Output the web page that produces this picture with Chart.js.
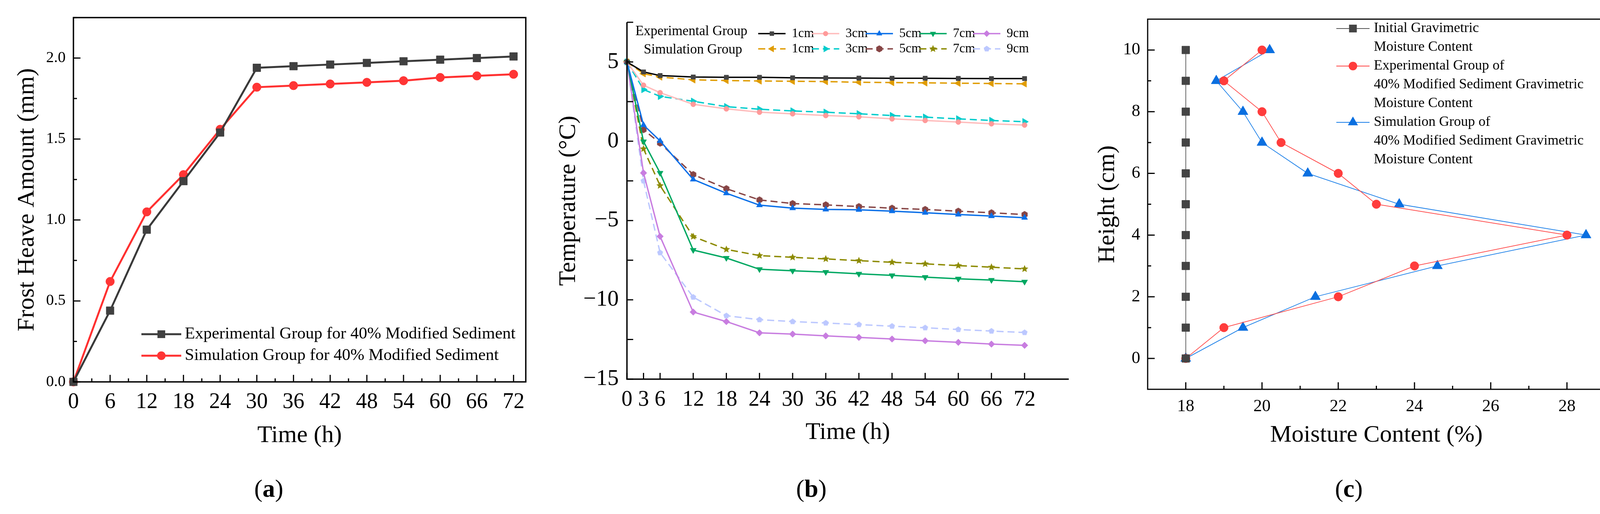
<!DOCTYPE html>
<html>
<head>
<meta charset="utf-8">
<script src="https://cdn.jsdelivr.net/npm/chart.js@4.4.1/dist/chart.umd.min.js"></script>
<style>
body { margin: 0; background: #fff; width: 4157px; height: 1315px; position: relative; overflow: hidden; font-family: "Liberation Serif", serif; }
canvas { position: absolute; top: 0; }
.tag { position: absolute; top: 1212px; font-size: 64px; line-height: 76px; transform: translateX(-50%); color: #000; }
</style>
</head>
<body>
<canvas id="chartA" width="1400" height="1180" style="left:0"></canvas>
<canvas id="chartB" width="1380" height="1180" style="left:1400px"></canvas>
<canvas id="chartC" width="1377" height="1180" style="left:2780px"></canvas>
<div class="tag" style="left:688px">(<b>a</b>)</div>
<div class="tag" style="left:2077px">(<b>b</b>)</div>
<div class="tag" style="left:3453px">(<b>c</b>)</div>
<script>
// (a) frost heave vs time
var timeA = [0, 6, 12, 18, 24, 30, 36, 42, 48, 54, 60, 66, 72];
var heaveExp = [0, 0.44, 0.94, 1.24, 1.54, 1.94, 1.95, 1.96, 1.97, 1.98, 1.99, 2.00, 2.01];
var heaveSim = [0, 0.62, 1.05, 1.28, 1.56, 1.82, 1.83, 1.84, 1.85, 1.86, 1.88, 1.89, 1.90];
var seriesA = ['Experimental Group for 40% Modified Sediment', 'Simulation Group for 40% Modified Sediment'];
var xTicksA = [0, 6, 12, 18, 24, 30, 36, 42, 48, 54, 60, 66, 72];
var yTicksA = [0, 0.5, 1.0, 1.5, 2.0];

// (b) temperature at depth vs time
var timeB = [0, 3, 6, 12, 18, 24, 30, 36, 42, 48, 54, 60, 66, 72];
var depths = ['1cm', '3cm', '5cm', '7cm', '9cm'];
var exp1 = [5, 4.37, 4.14, 4.05, 4.03, 4.03, 4.0, 3.99, 3.98, 3.97, 3.97, 3.96, 3.95, 3.95];
var exp3 = [5, 3.53, 3.06, 2.33, 2.04, 1.83, 1.73, 1.62, 1.54, 1.41, 1.31, 1.21, 1.1, 1.02];
var exp5 = [5, 1.02, 0.02, -2.41, -3.28, -4.03, -4.22, -4.3, -4.32, -4.41, -4.51, -4.62, -4.72, -4.82];
var exp7 = [5, -0.02, -2.0, -6.86, -7.36, -8.07, -8.17, -8.25, -8.36, -8.46, -8.57, -8.67, -8.75, -8.86];
var exp9 = [5, -2.0, -6.0, -10.77, -11.37, -12.08, -12.16, -12.27, -12.37, -12.47, -12.58, -12.68, -12.79, -12.87];
var sim1 = [5, 4.26, 4.05, 3.87, 3.83, 3.8, 3.78, 3.76, 3.72, 3.7, 3.68, 3.66, 3.64, 3.62];
var sim3 = [5, 3.26, 2.83, 2.52, 2.18, 2.02, 1.91, 1.83, 1.73, 1.62, 1.52, 1.41, 1.31, 1.23];
var sim5 = [5, 0.73, -0.12, -2.1, -2.99, -3.7, -3.93, -4.01, -4.12, -4.22, -4.3, -4.41, -4.51, -4.62];
var sim7 = [5, -0.48, -2.8, -6.01, -6.82, -7.21, -7.32, -7.42, -7.53, -7.63, -7.73, -7.84, -7.94, -8.05];
var sim9 = [5, -2.5, -7.03, -9.83, -11.0, -11.25, -11.37, -11.46, -11.56, -11.66, -11.76, -11.87, -11.97, -12.06];
var xTicksB = [0, 3, 6, 12, 18, 24, 30, 36, 42, 48, 54, 60, 66, 72];
var yTicksB = [5, 0, -5, -10, -15];

// (c) moisture profile
var heights = [0, 1, 2, 3, 4, 5, 6, 7, 8, 9, 10];
var moistInit = [18, 18, 18, 18, 18, 18, 18, 18, 18, 18, 18];
var moistExp = [18, 19, 22, 24, 28, 23, 22, 20.5, 20, 19, 20];
var moistSim = [18, 19.5, 21.4, 24.6, 28.5, 23.6, 21.2, 20, 19.5, 18.8, 20.2];
var seriesC = ['Initial Gravimetric\nMoisture Content',
  'Experimental Group of\n40% Modified Sediment Gravimetric\nMoisture Content',
  'Simulation Group of\n40% Modified Sediment Gravimetric\nMoisture Content'];
var xTicksC = [18, 20, 22, 24, 26, 28];
var yTicksC = [0, 2, 4, 6, 8, 10];

Chart.defaults.font.family = '"Liberation Serif", serif';
Chart.defaults.color = '#000';

var SERIF = '"Liberation Serif", serif';

function pts(xs, ys) {
    return xs.map(function (x, i) { return { x: x, y: ys[i] }; });
}

function shapeImg(n, r, color, inner) {
    var c = document.createElement('canvas');
    var s = Math.ceil(r * 2 + 2);
    c.width = c.height = s;
    var g = c.getContext('2d');
    g.fillStyle = color;
    g.beginPath();
    var count = inner ? n * 2 : n;
    for (var k = 0; k < count; k++) {
        var rr = (inner && k % 2) ? r * inner : r;
        var ang = -Math.PI / 2 + k * Math.PI * 2 / count;
        g.lineTo(s / 2 + rr * Math.cos(ang), s / 2 + rr * Math.sin(ang));
    }
    g.closePath();
    g.fill();
    return c;
}

function drawMark(ctx, ds, x, y) {
    var st = ds.pointStyle, r = ds.pointRadius, rot = (ds.pointRotation || 0) * Math.PI / 180;
    ctx.save();
    ctx.translate(x, y);
    if (typeof st === 'object') {
        ctx.drawImage(st, -st.width / 2, -st.height / 2);
        ctx.restore();
        return;
    }
    ctx.rotate(rot);
    ctx.fillStyle = ds.pointBackgroundColor;
    ctx.beginPath();
    if (st === 'rect') {
        var s = r * Math.SQRT1_2;
        ctx.rect(-s, -s, 2 * s, 2 * s);
    } else if (st === 'rectRot') {
        ctx.moveTo(0, -r); ctx.lineTo(r, 0); ctx.lineTo(0, r); ctx.lineTo(-r, 0); ctx.closePath();
    } else if (st === 'triangle') {
        for (var k = 0; k < 3; k++) {
            var a = -Math.PI / 2 + k * 2 * Math.PI / 3;
            ctx.lineTo(r * Math.cos(a), r * Math.sin(a));
        }
        ctx.closePath();
    } else {
        ctx.arc(0, 0, r, 0, Math.PI * 2);
    }
    ctx.fill();
    ctx.restore();
}

// inward tick marks + axis frame
var axisFrame = {
    id: 'axisFrame',
    afterDraw: function (chart, args, o) {
        var ctx = chart.ctx, a = chart.chartArea, xs = chart.scales.x, ys = chart.scales.y;
        ctx.save();
        ctx.strokeStyle = '#000';
        ctx.lineWidth = o.width;
        ctx.beginPath();
        function tx(v, len) { var p = xs.getPixelForValue(v); ctx.moveTo(p, a.bottom); ctx.lineTo(p, a.bottom - len); }
        function ty(v, len) { var p = ys.getPixelForValue(v); ctx.moveTo(a.left, p); ctx.lineTo(a.left + len, p); }
        xs.ticks.forEach(function (t) { tx(t.value, o.major); });
        (o.xMinor || []).forEach(function (v) { tx(v, o.minor); });
        ys.ticks.forEach(function (t) { ty(t.value, o.major); });
        (o.yMinor || []).forEach(function (v) { ty(v, o.minor); });
        ctx.stroke();
        ctx.lineWidth = o.axis;
        ctx.beginPath();
        if (o.box) {
            ctx.rect(a.left, a.top, a.right - a.left, a.bottom - a.top);
        } else {
            ctx.moveTo(a.left, a.top);
            ctx.lineTo(a.left, a.bottom);
            ctx.lineTo(a.right, a.bottom);
        }
        ctx.stroke();
        ctx.restore();
    }
};

// legend drawn from the datasets' own styles
var sampleLegend = {
    id: 'sampleLegend',
    afterDraw: function (chart, args, o) {
        if (!o.items) return;
        var ctx = chart.ctx;
        ctx.save();
        ctx.fillStyle = '#000';
        ctx.textBaseline = 'middle';
        (o.texts || []).forEach(function (t) {
            ctx.font = t.font;
            ctx.textAlign = t.align || 'left';
            ctx.fillText(t.text, t.x, t.y);
        });
        ctx.font = o.font;
        ctx.textAlign = 'left';
        o.items.forEach(function (it) {
            var ds = chart.data.datasets[it.ds];
            ctx.strokeStyle = ds.borderColor;
            ctx.lineWidth = ds.borderWidth;
            ctx.setLineDash(ds.borderDash || []);
            ctx.beginPath();
            ctx.moveTo(it.x, it.y);
            ctx.lineTo(it.x + o.len, it.y);
            ctx.stroke();
            ctx.setLineDash([]);
            drawMark(ctx, ds, it.x + o.len / 2, it.y);
            String(ds.label).split('\n').forEach(function (s, i) {
                ctx.fillText(s, it.x + o.len + o.gap, it.y + i * (o.lh || 0));
            });
        });
        ctx.restore();
    }
};

function ticksFrom(list) {
    return function (s) { s.ticks = list.map(function (v) { return { value: v }; }); };
}

function fixW(w) { return function (s) { s.width = w; }; }
function fixH(h) { return function (s) { s.height = h; }; }

function line(label, xs, ys, color, ptColor, style, r, w, dash, rot) {
    return {
        label: label,
        data: pts(xs, ys),
        borderColor: color,
        backgroundColor: ptColor,
        borderWidth: w,
        borderDash: dash || [],
        pointStyle: style,
        pointRadius: r,
        pointRotation: rot || 0,
        pointBackgroundColor: ptColor,
        pointBorderColor: ptColor,
        pointBorderWidth: 1,
        tension: 0,
        clip: 14
    };
}

var common = {
    responsive: false,
    animation: false,
    devicePixelRatio: 1,
    events: []
};

// ---------- (a)
new Chart(document.getElementById('chartA'), {
    type: 'line',
    data: {
        datasets: [
            line(seriesA[0], timeA, heaveExp, '#3a3a3a', '#404040', 'rect', 14, 5),
            line(seriesA[1], timeA, heaveSim, '#ff3030', '#ff3535', 'circle', 11, 5)
        ]
    },
    options: Object.assign({}, common, {
        layout: { padding: { left: 0, top: 45, right: 54, bottom: 0 } },
        scales: {
            x: {
                type: 'linear', min: 0, max: 74,
                afterBuildTicks: ticksFrom(xTicksA), afterFit: fixH(203),
                grid: { display: false, drawTicks: false }, border: { display: false },
                ticks: { font: { size: 56 }, padding: 19, autoSkip: false, maxRotation: 0 },
                title: { display: true, text: 'Time (h)', font: { size: 62 }, padding: { top: 0, bottom: 28 } }
            },
            y: {
                min: 0, max: 2.25,
                afterBuildTicks: ticksFrom(yTicksA), afterFit: fixW(188),
                grid: { display: false, drawTicks: false }, border: { display: false },
                ticks: { font: { size: 40 }, padding: 20, callback: function (v) { return v.toFixed(1); } },
                title: { display: true, text: 'Frost Heave Amount (mm)', font: { size: 62 }, padding: { top: 33, bottom: 0 } }
            }
        },
        plugins: {
            legend: { display: false },
            tooltip: { enabled: false },
            axisFrame: { width: 3, axis: 3.5, major: 18, minor: 9, box: true,
                xMinor: [3, 9, 15, 21, 27, 33, 39, 45, 51, 57, 63, 69],
                yMinor: [0.25, 0.75, 1.25, 1.75, 2.25] },
            sampleLegend: {
                font: '43px ' + SERIF, len: 102, gap: 9,
                items: [{ ds: 0, x: 362, y: 855 }, { ds: 1, x: 362, y: 910 }]
            }
        }
    }),
    plugins: [axisFrame, sampleLegend]
});

// ---------- (b)
var hexBrown = shapeImg(6, 9, '#874545');
var starOlive = shapeImg(5, 10, '#8c8a00', 0.45);
var pentLav = shapeImg(5, 8, '#bcc8ff');
var dash = [18, 10];
var rowExp = 86, rowSim = 125, colX = 541, colStep = 137.5;

new Chart(document.getElementById('chartB'), {
    type: 'line',
    data: {
        datasets: [
            line(depths[0], timeB, exp1, '#000000', '#444444', 'rect', 8, 3.5),
            line(depths[1], timeB, exp3, '#ffbcbc', '#ff9a9a', 'circle', 6.5, 3.5),
            line(depths[2], timeB, exp5, '#0a6fe8', '#0a6fe8', 'triangle', 9, 3.5),
            line(depths[3], timeB, exp7, '#00a862', '#00a862', 'triangle', 9, 3.5, null, 180),
            line(depths[4], timeB, exp9, '#c87de0', '#c87de0', 'rectRot', 8.5, 3.5),
            line(depths[0], timeB, sim1, '#e09c00', '#e09c00', 'triangle', 10, 3.5, dash, 270),
            line(depths[1], timeB, sim3, '#00cccc', '#00cccc', 'triangle', 10, 3.5, dash, 90),
            line(depths[2], timeB, sim5, '#874545', '#874545', hexBrown, 9, 3.5, dash),
            line(depths[3], timeB, sim7, '#8c8a00', '#8c8a00', starOlive, 10, 3.5, dash),
            line(depths[4], timeB, sim9, '#bcc8ff', '#bcc8ff', pentLav, 8, 3.5, dash)
        ]
    },
    options: Object.assign({}, common, {
        layout: { padding: { left: 0, top: 57, right: 44, bottom: 0 } },
        scales: {
            x: {
                type: 'linear', min: 0, max: 80,
                afterBuildTicks: ticksFrom(xTicksB), afterFit: fixH(210),
                grid: { display: false, drawTicks: false }, border: { display: false },
                ticks: { font: { size: 56 }, padding: 20, autoSkip: false, maxRotation: 0 },
                title: { display: true, text: 'Time (h)', font: { size: 62 }, padding: { top: 0, bottom: 36 } }
            },
            y: {
                min: -15, max: 7.5,
                afterBuildTicks: ticksFrom(yTicksB), afterFit: fixW(205),
                grid: { display: false, drawTicks: false }, border: { display: false },
                ticks: { font: { size: 58 }, padding: 21, callback: function (v) { return String(v).replace('-', '\u2212'); } },
                title: { display: true, text: 'Temperature (°C)', font: { size: 62 }, padding: { top: 19, bottom: 0 } }
            }
        },
        plugins: {
            legend: { display: false },
            tooltip: { enabled: false },
            axisFrame: { width: 3, axis: 3.5, major: 16, minor: 16, box: false,
                yMinor: [7.5, 2.5, -2.5, -7.5, -12.5] },
            sampleLegend: {
                font: '33px ' + SERIF, len: 70, gap: 16,
                texts: [
                    { text: 'Experimental Group', x: 370, y: 81, align: 'center', font: '35px ' + SERIF },
                    { text: 'Simulation Group', x: 374, y: 128, align: 'center', font: '35px ' + SERIF }
                ],
                items: [0, 1, 2, 3, 4, 5, 6, 7, 8, 9].map(function (i) {
                    return { ds: i, x: colX + (i % 5) * colStep, y: i < 5 ? rowExp : rowSim };
                })
            }
        }
    }),
    plugins: [axisFrame, sampleLegend]
});

// ---------- (c)
new Chart(document.getElementById('chartC'), {
    type: 'line',
    data: {
        datasets: [
            line(seriesC[0], moistInit, heights, '#555555', '#444444', 'rect', 14, 1.8),
            line(seriesC[1], moistExp, heights, '#ff4545', '#ff3c3c', 'circle', 11, 1.8),
            line(seriesC[2], moistSim, heights, '#1a7fe8', '#0a6fe0', 'triangle', 15, 1.8)
        ]
    },
    options: Object.assign({}, common, {
        layout: { padding: { left: 0, top: 49, right: 48, bottom: 0 } },
        scales: {
            x: {
                type: 'linear', min: 17, max: 29,
                afterBuildTicks: ticksFrom(xTicksC), afterFit: fixH(184),
                grid: { display: false, drawTicks: false }, border: { display: false },
                ticks: { font: { size: 44 }, padding: 18, autoSkip: false, maxRotation: 0 },
                title: { display: true, text: 'Moisture Content (%)', font: { size: 62 }, padding: { top: 0, bottom: 29 } }
            },
            y: {
                min: -1, max: 11,
                afterBuildTicks: ticksFrom(yTicksC), afterFit: fixW(158),
                grid: { display: false, drawTicks: false }, border: { display: false },
                ticks: { font: { size: 44 }, padding: 19 },
                title: { display: true, text: 'Height (cm)', font: { size: 62 }, padding: { top: 19, bottom: 0 } }
            }
        },
        plugins: {
            legend: { display: false },
            tooltip: { enabled: false },
            axisFrame: { width: 3, axis: 3, major: 18, minor: 9, box: true,
                xMinor: [19, 21, 23, 25, 27, 29], yMinor: [1, 3, 5, 7, 9] },
            sampleLegend: {
                font: '36px ' + SERIF, len: 85, gap: 11, lh: 48,
                items: [{ ds: 0, x: 641, y: 73 }, { ds: 1, x: 641, y: 169 }, { ds: 2, x: 641, y: 313 }]
            }
        }
    }),
    plugins: [axisFrame, sampleLegend]
});
</script>
</body>
</html>
